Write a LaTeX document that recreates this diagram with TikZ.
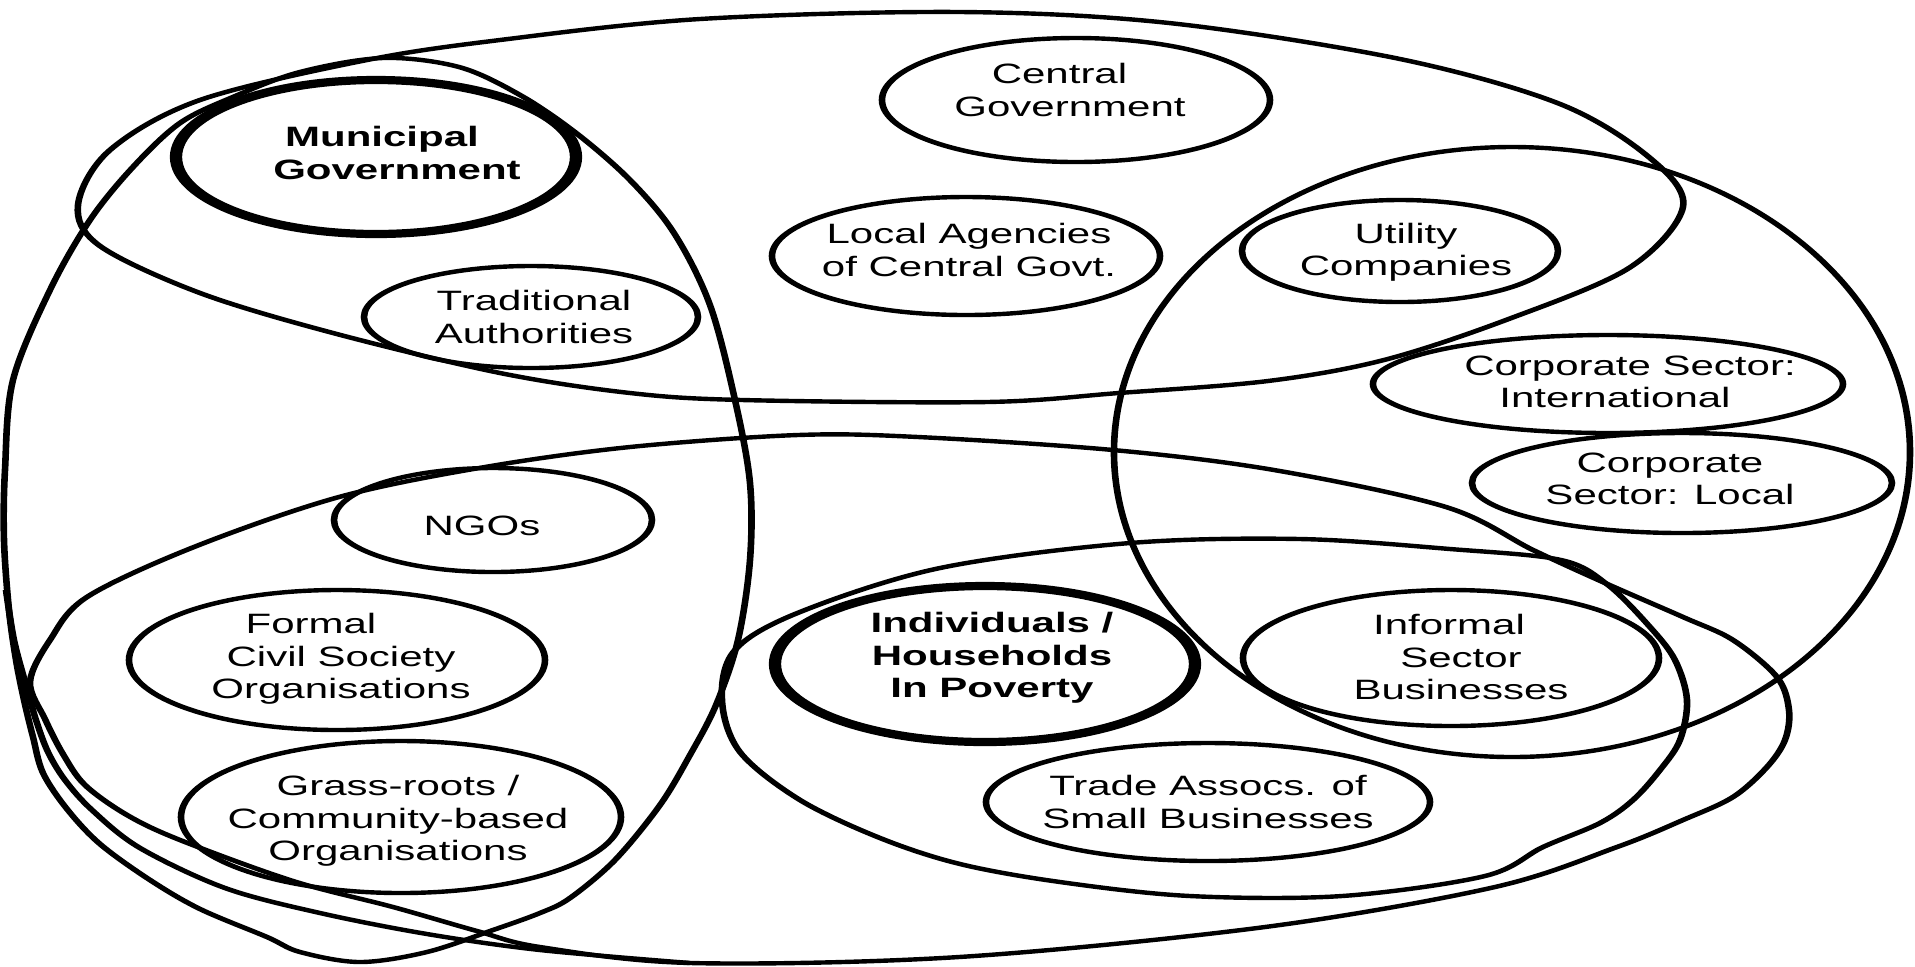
\documentclass[tikz,border=0pt]{standalone}
\usepackage{fontspec}
\setmainfont{Liberation Sans}
\begin{document}
\begin{tikzpicture}[x=0.5pt,y=-0.5pt]
\fill[white] (0,0) rectangle (1915,966);
\path[use as bounding box] (0,0) rectangle (1915,966);
\begin{scope}[x=0.333333pt, y=-0.5pt, transform canvas={xscale=1.5},
  big/.style={line width=2.2pt, draw=black, line join=round},
  ring/.style={line width=2.2pt, draw=black},
  heavy/.style={line width=4.1pt, draw=black},
  lbl/.style={align=center, inner sep=0pt, font=\fontsize{14}{16.2}\selectfont},
  lblb/.style={align=center, inner sep=0pt, font=\bfseries\fontsize{14}{16.2}\selectfont}]

% ---- large groupings ----
% government (top)
\draw[big] plot[smooth cycle, tension=0.55] coordinates {
 (78,205) (110,150) (200,100) (367,60) (500,40) (700,19) (960,12) (1169,23)
 (1400,59) (1560,104) (1650,158) (1683,207) (1629,268) (1506,320)
 (1384,360) (1268,381) (1119,393) (987,402) (742,400) (630,393) (500,373)
 (333,333) (200,293) (100,246)};
% tall left
\draw[big] plot[smooth cycle, tension=0.55] coordinates {
 (383,58) (459,67) (520,95) (576,133) (630,180) (674,233) (710,305) (735,400)
 (750,483) (750,560) (738,640) (716,705) (690,755) (660,805) (615,860)
 (570,898) (540,913) (493,930) (427,952) (360,962) (300,952) (267,937)
 (200,909) (150,880) (100,844) (67,809) (43,773) (33,737) (24,700) (16,660)
 (9,610) (4,540) (5,470) (13,380) (50,290) (90,220) (133,167) (180,123)
 (233,97) (300,72)};
% private sector (right)
\draw[big] (1512,452) ellipse [x radius=398, y radius=305];
% civil society (middle, wide)
\draw[big] plot[smooth cycle, tension=0.55] coordinates {
 (30,682) (50,640) (87,597) (194,547) (339,497) (485,467) (630,447) (798,435)
 (918,437) (1113,450) (1274,470) (1446,507) (1533,550) (1605,583) (1683,617)
 (1733,640) (1777,677) (1789,710) (1785,740) (1767,767) (1733,797) (1683,820)
 (1617,847) (1495,887) (1265,927) (959,957) (691,963) (540,947) (477,931)
 (393,907) (293,881) (180,840) (127,815) (85,785) (63,754) (45,719)};
% lower-left extra arc
\draw[big] plot[smooth, tension=0.55] coordinates {
 (6,590) (14,640) (26,685) (36,720) (48,752) (65,780) (92,810) (140,848)
 (225,888) (320,913) (427,934) (540,950) (690,963)};
% poor / informal (bottom centre)
\draw[big] plot[smooth cycle, tension=0.55] coordinates {
 (722,700) (735,650) (800,612) (940,568) (1130,543) (1300,539) (1450,549)
 (1561,560) (1608,585) (1650,627) (1675,660) (1687,700) (1680,740) (1660,770)
 (1633,800) (1600,823) (1543,847) (1485,876) (1342,896) (1190,896)
 (1060,882) (960,864) (880,838) (800,800) (740,752)};

% ---- stakeholder ellipses ----
\draw[ring]  (1076,100) ellipse [x radius=194, y radius=62];
\draw[heavy] (376,157)  ellipse [x radius=200, y radius=77];
\draw[ring]  (966,256)  ellipse [x radius=194, y radius=59];
\draw[ring]  (531,317)  ellipse [x radius=167, y radius=51];
\draw[ring]  (1400,251) ellipse [x radius=158, y radius=51];
\draw[ring]  (1608,384) ellipse [x radius=235, y radius=49];
\draw[ring]  (1682,483) ellipse [x radius=210, y radius=50];
\draw[ring]  (493,520)  ellipse [x radius=159, y radius=52];
\draw[ring]  (337,660)  ellipse [x radius=208, y radius=70];
\draw[ring]  (401,817)  ellipse [x radius=220, y radius=76];
\draw[heavy] (985,664)  ellipse [x radius=210, y radius=78];
\draw[ring]  (1451,658) ellipse [x radius=208, y radius=68];
\draw[ring]  (1208,802) ellipse [x radius=222, y radius=59];

% ---- labels ----
\node[lbl]  (central)   at (1070,90)  {Central\hspace*{7pt}\\Government};
\node[lblb] (municipal) at (397,153)  {Municipal\hspace*{10pt}\\Government};
\node[lbl]  (localag)   at (969,250)  {Local Agencies\\of Central Govt.};
\node[lbl]  (tradit)    at (534,317)  {Traditional\\Authorities};
\node[lbl]  (utility)   at (1406,252) {Utility\\Companies};
\node[lbl]  (corpint)   at (1630,382) {Corporate Sector:\\International\hspace*{10pt}};
\node[lbl]  (corploc)   at (1670,479) {Corporate\\Sector: Local};
\node[lbl]  (ngos)      at (482,526)  {NGOs};
\node[lbl]  (formal)    at (341,659)  {Formal\hspace*{20pt}\\Civil Society\hspace*{8pt}\\Organisations};
\node[lbl]  (grass)     at (398,821)  {Grass-roots /\\Community-based\\Organisations};
\node[lblb] (indiv)     at (992,658)  {Individuals /\\Households\\In Poverty};
\node[lbl]  (informal)  at (1461,657) {Informal\hspace*{8pt}\\Sector\\Businesses};
\node[lbl]  (trade)     at (1208,802) {Trade Assocs. of\\Small Businesses};
\end{scope}
\end{tikzpicture}
\end{document}
